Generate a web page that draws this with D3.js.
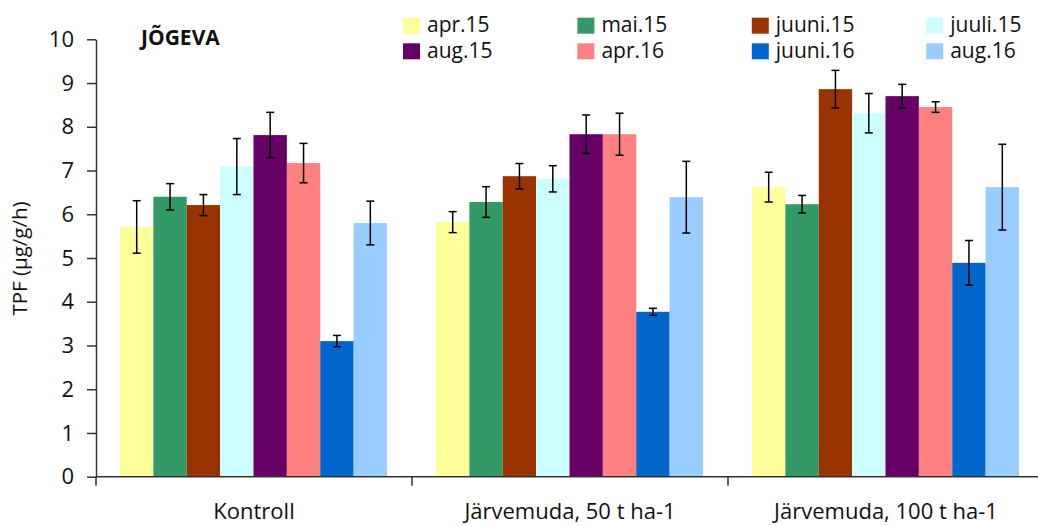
<!DOCTYPE html>
<html>
<head>
<meta charset="utf-8">
<script src="https://d3js.org/d3.v7.min.js"></script>
<style>
  body { margin: 0; background: #fff; }
  text { font-family: "Open Sans", Lato, sans-serif; fill: #111; }
</style>
</head>
<body>
<script>
// treatment groups and sampling dates
var groups = ["Kontroll", "Järvemuda, 50 t ha-1", "Järvemuda, 100 t ha-1"];
var dates = ["apr.15", "mai.15", "juuni.15", "juuli.15", "aug.15", "apr.16", "juuni.16", "aug.16"];
var colors = ["#FFFF99", "#339966", "#993300", "#CCFFFF", "#660066", "#FF8080", "#0066CC", "#99CCFF"];

// mean TPF per date, one value per group
var apr15 = [5.71, 5.82, 6.62];
var mai15 = [6.40, 6.28, 6.23];
var juuni15 = [6.21, 6.87, 8.86];
var juuli15 = [7.09, 6.81, 8.31];
var aug15 = [7.81, 7.83, 8.70];
var apr16 = [7.17, 7.83, 8.45];
var juuni16 = [3.10, 3.77, 4.89];
var aug16 = [5.80, 6.39, 6.62];

// error bar half-widths
var apr15Err = [0.60, 0.24, 0.34];
var mai15Err = [0.30, 0.35, 0.20];
var juuni15Err = [0.24, 0.29, 0.43];
var juuli15Err = [0.64, 0.30, 0.45];
var aug15Err = [0.52, 0.44, 0.27];
var apr16Err = [0.45, 0.48, 0.12];
var juuni16Err = [0.13, 0.08, 0.51];
var aug16Err = [0.50, 0.82, 0.98];

var yTicks = [0, 1, 2, 3, 4, 5, 6, 7, 8, 9, 10];

var values = [apr15, mai15, juuni15, juuli15, aug15, apr16, juuni16, aug16];
var errors = [apr15Err, mai15Err, juuni15Err, juuli15Err, aug15Err, apr16Err, juuni16Err, aug16Err];

var rows = [];
dates.forEach(function(d, i) {
  groups.forEach(function(g, j) {
    rows.push({date: d, group: g, value: values[i][j], err: errors[i][j], color: colors[i]});
  });
});

var width = 1038, height = 526;
var svg = d3.select("body").append("svg").attr("width", width).attr("height", height);

var x0 = d3.scaleBand().domain(groups).range([96, 1044]);
var x1 = d3.scaleBand().domain(dates).range([24, 24 + 267]);
var y = d3.scaleLinear().domain([0, 10]).range([476.7, 39.3]);

// bars
svg.append("g").selectAll("rect").data(rows).join("rect")
  .attr("x", function(d) { return x0(d.group) + x1(d.date); })
  .attr("y", function(d) { return y(d.value); })
  .attr("width", x1.bandwidth())
  .attr("height", function(d) { return y(0) - y(d.value); })
  .attr("fill", function(d) { return d.color; });

// error bars
var eb = svg.append("g").attr("stroke", "#000").attr("stroke-width", 1.5)
  .selectAll("g").data(rows).join("g")
  .attr("transform", function(d) { return "translate(" + (x0(d.group) + x1(d.date) + x1.bandwidth() / 2) + ",0)"; });
eb.append("line")
  .attr("y1", function(d) { return y(d.value + d.err); })
  .attr("y2", function(d) { return y(d.value - d.err); });
eb.append("line").attr("x1", -4).attr("x2", 4)
  .attr("y1", function(d) { return y(d.value + d.err); })
  .attr("y2", function(d) { return y(d.value + d.err); });
eb.append("line").attr("x1", -4).attr("x2", 4)
  .attr("y1", function(d) { return y(d.value - d.err); })
  .attr("y2", function(d) { return y(d.value - d.err); });

// y axis
var yAxis = svg.append("g").attr("transform", "translate(96,0)")
  .call(d3.axisLeft(y).tickValues(yTicks).tickSize(9).tickSizeOuter(0).tickPadding(13));
yAxis.selectAll("text").attr("font-size", 22).style("font-family", "'Open Sans', sans-serif");
yAxis.selectAll("line, path").attr("stroke", "#333").attr("stroke-width", 1.5);

// x axis: line, boundary ticks, centered labels
var xAxis = svg.append("g").attr("transform", "translate(0," + y(0) + ")");
xAxis.append("line").attr("x1", 96).attr("x2", 1044).attr("stroke", "#333").attr("stroke-width", 1.5);
xAxis.selectAll(".tk").data(groups.concat([null])).join("line").attr("class", "tk")
  .attr("x1", function(d, i) { return x0.range()[0] + i * x0.step(); })
  .attr("x2", function(d, i) { return x0.range()[0] + i * x0.step(); })
  .attr("y1", 0).attr("y2", 9).attr("stroke", "#333").attr("stroke-width", 1.5);
xAxis.selectAll(".lbl").data(groups).join("text").attr("class", "lbl")
  .attr("x", function(d) { return x0(d) + x0.bandwidth() / 2; })
  .attr("y", 42.5)
  .attr("text-anchor", "middle").attr("font-size", 22)
  .text(function(d) { return d; });

// y label
svg.append("text")
  .attr("transform", "translate(27,258.5) rotate(-90)")
  .attr("text-anchor", "middle").attr("font-size", 20.5)
  .text("TPF (µg/g/h)");

// title
svg.append("text").attr("x", 141).attr("y", 44.5)
  .attr("font-size", 21).attr("font-weight", "bold")
  .text("JÕGEVA");

// legend
var leg = svg.append("g").selectAll("g").data(dates).join("g")
  .attr("transform", function(d, i) { return "translate(" + (403 + (i % 4) * 174.4) + "," + (17.7 + Math.floor(i / 4) * 25.6) + ")"; });
leg.append("rect").attr("width", 17).attr("height", 16)
  .attr("fill", function(d, i) { return colors[i]; });
leg.append("text").attr("x", 24).attr("y", 14.6).attr("font-size", 21)
  .text(function(d) { return d; });
</script>
</body>
</html>
